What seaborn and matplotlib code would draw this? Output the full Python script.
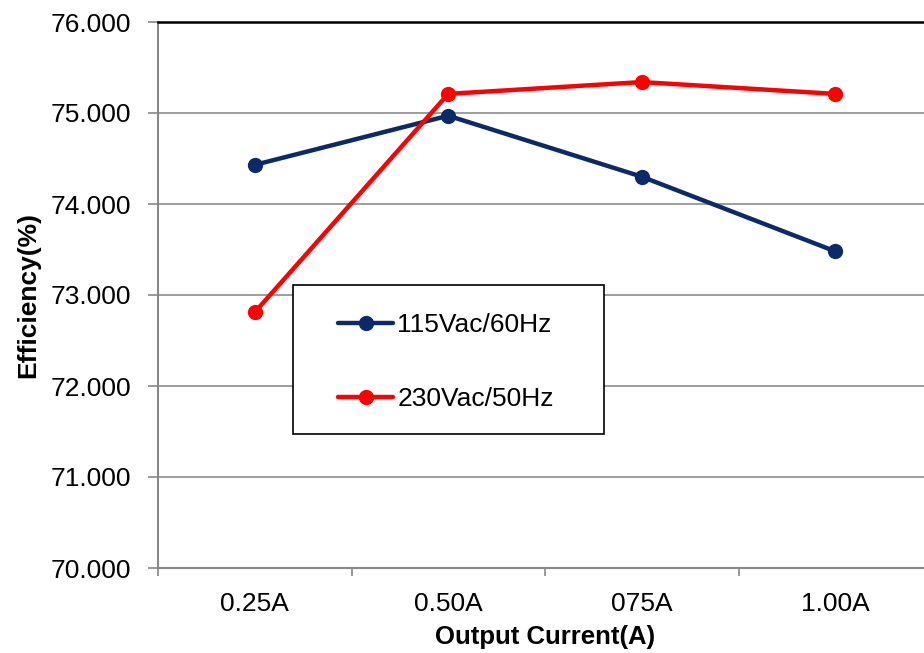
import matplotlib
matplotlib.use("Agg")
import matplotlib.pyplot as plt
import seaborn as sns
import pandas as pd
import numpy as np
from matplotlib.lines import Line2D
from matplotlib.patches import Rectangle

categories = ["0.25A", "0.50A", "075A", "1.00A"]
eff_115 = [74.43, 74.97, 74.30, 73.48]
eff_230 = [72.81, 75.21, 75.34, 75.21]
series_names = ["115Vac/60Hz", "230Vac/50Hz"]
colors = ["#0C2A67", "#FF0000"]
y_ticks = [70, 71, 72, 73, 74, 75, 76]

sns.set_theme(style="white")
plt.rcParams['font.family'] = ['Liberation Sans', 'DejaVu Sans']
plt.rcParams['text.color'] = 'black'
plt.rcParams['axes.labelcolor'] = 'black'
plt.rcParams['xtick.color'] = 'black'
plt.rcParams['ytick.color'] = 'black'

df = pd.DataFrame({
    "pos": list(range(len(categories))) * 2,
    "eff": eff_115 + eff_230,
    "series": [series_names[0]] * 4 + [series_names[1]] * 4,
})

fig = plt.figure(figsize=(9.24, 6.53), dpi=100)
ax = fig.add_axes([158/924, 1-568/653, 774/924, 546/653])

sns.lineplot(data=df, x="pos", y="eff", hue="series", palette=colors,
             marker="o", markersize=11, linewidth=3.2, markeredgewidth=0,
             sort=False, ax=ax, legend=False)

ax.set_xlim(-0.5, 3.5)
ax.set_ylim(70, 76)
ax.set_yticks(y_ticks)
ax.set_yticklabels([f"{v:.3f}" for v in y_ticks], fontsize=19)
ax.set_xticks(range(len(categories)))
ax.set_xticklabels(categories, fontsize=19)
ax.set_xticks(np.arange(-0.5, 3.6, 1.0), minor=True)
ax.tick_params(axis="x", which="major", length=0, pad=17, labelcolor="black")
ax.tick_params(axis="x", which="minor", length=6, width=1.2, color="#888888", direction="out", bottom=True)
ax.tick_params(axis="y", length=7, width=1.2, color="#888888", direction="out", left=True, pad=12, labelcolor="black")
ax.yaxis.grid(True, color="#8c8c8c", linewidth=1.2)
ax.set_axisbelow(True)

for s in ["left", "bottom"]:
    ax.spines[s].set_color("#888888")
    ax.spines[s].set_linewidth(1.5)
ax.spines["top"].set_color("black")
ax.spines["top"].set_linewidth(1.8)
ax.spines["right"].set_visible(False)

ax.set_xlabel("Output Current(A)", fontsize=18.5, fontweight="bold", labelpad=7)
ax.set_ylabel("Efficiency(%)", fontsize=19, fontweight="bold", labelpad=8)

box = Rectangle((0.1744, 0.2454), 0.4018, 0.2729, transform=ax.transAxes,
                facecolor="white", edgecolor="black", linewidth=1.2, zorder=5)
ax.add_patch(box)

handles = [Line2D([], [], color=c, marker="o", markersize=11, linewidth=3.2, markeredgewidth=0) for c in colors]
leg = ax.legend(handles, series_names, loc="center left",
                bbox_to_anchor=(0.2326, 0.377),
                fontsize=19, frameon=False, labelspacing=1.9,
                handlelength=2.1, handletextpad=0.15,
                borderpad=0, borderaxespad=0)
leg.set_zorder(6)
for t in leg.get_texts():
    t.set_color("black")

fig.savefig("out.png", dpi=100)
